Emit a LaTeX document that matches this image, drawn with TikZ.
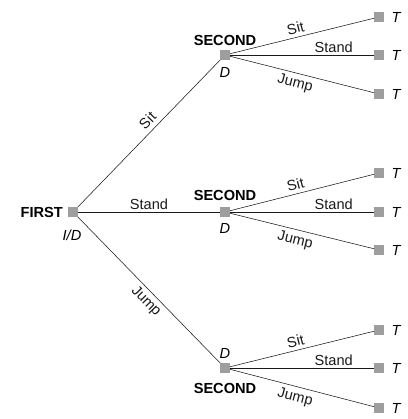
\documentclass[tikz,border=0pt]{standalone}
\usepackage{fontspec}
\setmainfont{Liberation Sans}
\begin{document}
\begin{tikzpicture}[x=1pt,y=-1pt,
  sq/.style={fill=black!38,minimum size=10pt,inner sep=0pt,outer sep=0pt},
  lab/.style={font=\fontsize{14.6}{16}\selectfont},
  blab/.style={font=\fontsize{14.6}{16}\selectfont\bfseries},
  ilab/.style={font=\fontsize{14.6}{16}\selectfont\itshape},
  edge/.style={line width=0.55pt,black!90}]
\useasboundingbox (0,0) rectangle (407,419);
% first
\node[sq] (F) at (73,212) {};
\node[blab,anchor=east,inner sep=0pt] (Flab) at (63,212) {FIRST};
\node[ilab] (Fid) at (72,235) {I/D};
% second nodes
\node[sq] (S1) at (225,55) {};
\node[sq] (S2) at (225,212) {};
\node[sq] (S3) at (225,368) {};
\node[blab] (S1lab) at (225,40) {SECOND};
\node[ilab] (S1d) at (225,72) {D};
\node[blab] (S2lab) at (225,195) {SECOND};
\node[ilab] (S2d) at (225,228) {D};
\node[ilab] (S3d) at (225,353) {D};
\node[blab] (S3lab) at (225,388) {SECOND};
% first edges
\draw[edge] (F) -- node[lab,pos=0.54,sloped,above,inner sep=4.5pt] {Sit} (S1);
\draw[edge] (F) -- node[lab,midway,above,inner sep=2pt] {Stand} (S2);
\draw[edge] (F) -- node[lab,pos=0.53,sloped,below,inner sep=3.5pt] {Jump} (S3);
% terminals
\foreach \s/\ya/\yb/\yc in {1/17/55/94, 2/173/212/250, 3/330/368/408}{
  \node[sq] (T\s a) at (379,\ya) {};
  \node[sq] (T\s b) at (379,\yb) {};
  \node[sq] (T\s c) at (379,\yc) {};
  \node[ilab] (T\s alab) at (396,\ya) {T};
  \node[ilab] (T\s blab) at (396,\yb) {T};
  \node[ilab] (T\s clab) at (396,\yc) {T};
  \draw[edge] (S\s) -- node[lab,pos=0.47,sloped,above,inner sep=3.5pt] {Sit} (T\s a);
  \draw[edge] (S\s) -- node[lab,pos=0.72,above,inner sep=2.5pt] {Stand} (T\s b);
  \draw[edge] (S\s) -- node[lab,pos=0.47,sloped,below,inner sep=4pt] {Jump} (T\s c);
}
\end{tikzpicture}
\end{document}
